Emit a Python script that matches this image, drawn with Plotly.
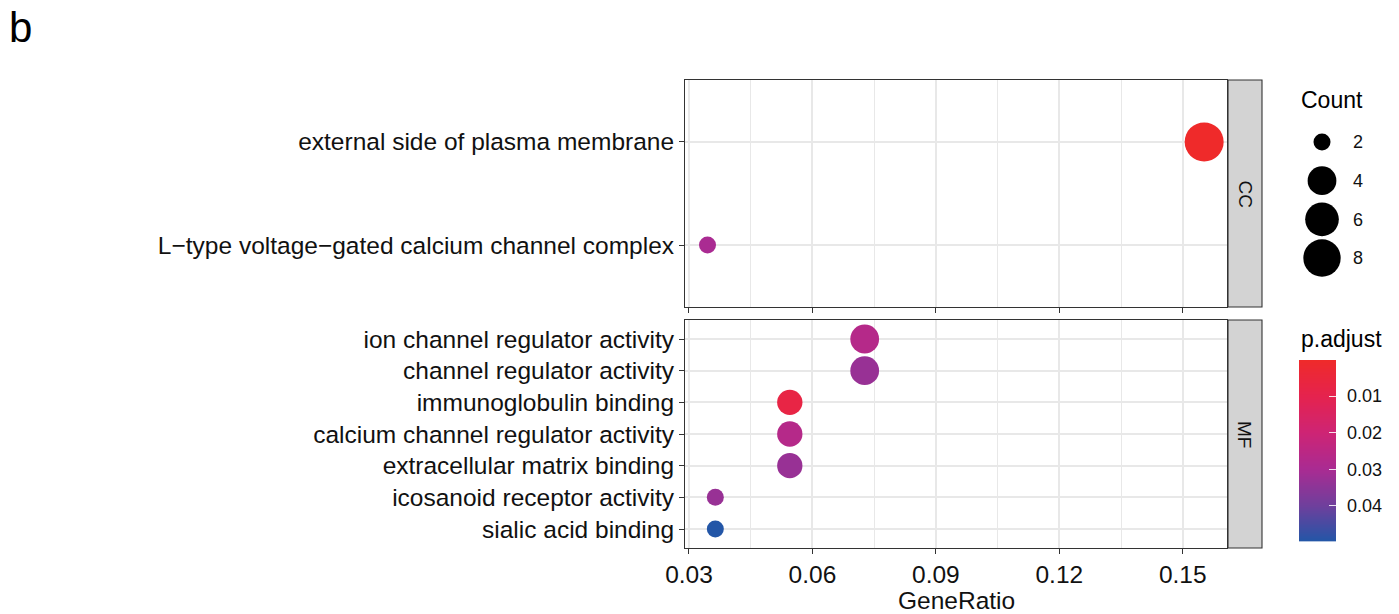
import numpy as np
import plotly.graph_objects as go

# ---------------- data ----------------
cc_terms = ["external side of plasma membrane",
            "L\u2212type voltage\u2212gated calcium channel complex"]
cc_ratio = [0.1552, 0.0345]
cc_count = [9, 2]
cc_padj = [0.0001, 0.030]

mf_terms = ["ion channel regulator activity",
            "channel regulator activity",
            "immunoglobulin binding",
            "calcium channel regulator activity",
            "extracellular matrix binding",
            "icosanoid receptor activity",
            "sialic acid binding"]
mf_ratio = [0.0727, 0.0727, 0.0545, 0.0545, 0.0545, 0.0364, 0.0364]
mf_count = [4, 4, 3, 3, 3, 2, 2]
mf_padj = [0.027, 0.033, 0.0075, 0.027, 0.033, 0.033, 0.0498]

x_ticks = [0.03, 0.06, 0.09, 0.12, 0.15]
x_ticklabels = ["0.03", "0.06", "0.09", "0.12", "0.15"]
size_legend_counts = [2, 4, 6, 8]
color_ticks = [0.01, 0.02, 0.03, 0.04]
color_ticklabels = ["0.01", "0.02", "0.03", "0.04"]

# ---------------- scales ----------------
W, H = 1399, 614
all_counts = cc_count + mf_count
cmin_count, cmax_count = min(all_counts), max(all_counts)
D_MIN, D_MAX = 17, 39


def size_scale(c):
    c = np.asarray(c, dtype=float)
    return D_MIN + (D_MAX - D_MIN) * np.sqrt((c - cmin_count) / (cmax_count - cmin_count))


all_p = cc_padj + mf_padj
pmin, pmax = min(all_p), max(all_p)
colorscale = [
    [0.0, "rgb(239,42,42)"],
    [0.2, "rgb(229,35,78)"],
    [0.4, "rgb(206,36,116)"],
    [0.6, "rgb(170,43,146)"],
    [0.8, "rgb(112,63,156)"],
    [1.0, "rgb(35,86,167)"],
]


def px_x(p):
    return p / W


def px_y(p):
    return 1 - p / H


FONT = "Liberation Sans, Arial, sans-serif"
GRID = "#E8E8E8"
DARK = "#333333"
TXT = "#111111"

X_RANGE = [0.02903, 0.16075]
PANEL_X = [px_x(685), px_x(1227)]

fig = go.Figure()

fig.add_trace(go.Scatter(
    x=cc_ratio, y=cc_terms, mode="markers", xaxis="x", yaxis="y",
    marker=dict(size=size_scale(cc_count), color=cc_padj, colorscale=colorscale,
                cmin=pmin, cmax=pmax, line=dict(width=0), opacity=1),
    showlegend=False, hoverinfo="x+y"))
fig.add_trace(go.Scatter(
    x=mf_ratio, y=mf_terms, mode="markers", xaxis="x2", yaxis="y2",
    marker=dict(size=size_scale(mf_count), color=mf_padj, colorscale=colorscale,
                cmin=pmin, cmax=pmax, line=dict(width=0), opacity=1),
    showlegend=False, hoverinfo="x+y"))

# size legend
fig.add_trace(go.Scatter(
    x=[0.5] * len(size_legend_counts), y=size_legend_counts, mode="markers",
    xaxis="x3", yaxis="y3", cliponaxis=False,
    marker=dict(size=size_scale(size_legend_counts), color="#000000",
                line=dict(width=0), opacity=1),
    showlegend=False, hoverinfo="skip"))

# colorbar as heatmap
grad = np.linspace(pmin, pmax, 300)
fig.add_trace(go.Heatmap(
    x=[0], y=grad, z=grad.reshape(-1, 1), colorscale=colorscale,
    zmin=pmin, zmax=pmax, showscale=False, xaxis="x4", yaxis="y4", hoverinfo="skip"))

axis_common = dict(showline=True, mirror=True, linecolor=DARK, linewidth=1.1,
                   zeroline=False, automargin=False)

xaxis_common = dict(
    range=X_RANGE, domain=PANEL_X, tickvals=x_ticks, ticktext=x_ticklabels,
    showgrid=True, gridcolor=GRID, gridwidth=2,
    minor=dict(dtick=0.015, tick0=0.015, showgrid=True, gridcolor=GRID, gridwidth=1,
               ticks=""),
    ticks="outside", ticklen=5, tickcolor=DARK, tickwidth=1,
    **axis_common)

fig.update_layout(
    template="none",
    width=W, height=H,
    margin=dict(l=0, r=0, t=0, b=0, pad=0),
    paper_bgcolor="white", plot_bgcolor="white",
    font=dict(family=FONT, color="black"),
    xaxis=dict(anchor="y", showticklabels=False, **xaxis_common),
    xaxis2=dict(anchor="y2", showticklabels=True,
                tickfont=dict(size=24.5, color=TXT),
                **xaxis_common),
    yaxis=dict(anchor="x", domain=[px_y(307), px_y(80)], type="category",
               categoryorder="array", categoryarray=cc_terms,
               range=[len(cc_terms) - 0.4, -0.6],
               showgrid=True, gridcolor=GRID, gridwidth=2,
               ticks="outside", ticklen=5, tickcolor=DARK, tickwidth=1,
               tickfont=dict(size=24.5, color=TXT), **axis_common),
    yaxis2=dict(anchor="x2", domain=[px_y(548), px_y(320)], type="category",
                categoryorder="array", categoryarray=mf_terms,
                range=[len(mf_terms) - 0.4, -0.6],
                showgrid=True, gridcolor=GRID, gridwidth=2,
                ticks="outside", ticklen=5, tickcolor=DARK, tickwidth=1,
                tickfont=dict(size=24.5, color=TXT), **axis_common),
    xaxis3=dict(anchor="y3", domain=[px_x(1298), px_x(1346)], range=[0, 1],
                visible=False, fixedrange=True, automargin=False),
    yaxis3=dict(anchor="x3", domain=[px_y(275), px_y(125)],
                range=[8.88, 1.12], side="right", showline=False, showgrid=False,
                zeroline=False, tickvals=size_legend_counts,
                ticktext=[str(c) for c in size_legend_counts], ticks="",
                ticklabelstandoff=6, automargin=False,
                tickfont=dict(size=18, color=TXT)),
    xaxis4=dict(anchor="y4", domain=[px_x(1299), px_x(1336)], range=[-0.5, 0.5],
                visible=False, fixedrange=True, automargin=False),
    yaxis4=dict(anchor="x4", domain=[px_y(541.5), px_y(360)],
                range=[pmax, pmin], side="right", showline=False, showgrid=False,
                zeroline=False, tickvals=color_ticks, ticktext=color_ticklabels,
                ticks="inside", ticklen=7, tickcolor="rgba(255,255,255,0.85)", tickwidth=1,
                ticklabelstandoff=10, automargin=False,
                tickfont=dict(size=18, color=TXT)),
    yaxis5=dict(anchor="x4", overlaying="y4", domain=[px_y(541.5), px_y(360)],
                range=[pmax, pmin], side="left", showline=False, showgrid=False,
                zeroline=False, tickvals=color_ticks, showticklabels=False,
                automargin=False,
                ticks="inside", ticklen=7, tickcolor="rgba(255,255,255,0.85)", tickwidth=1),
)

# facet strips
shapes = []
annotations = []
for (y0, y1, lab) in [(80, 307, "CC"), (320, 548, "MF")]:
    shapes.append(dict(type="rect", xref="paper", yref="paper",
                       x0=px_x(1228), x1=px_x(1262), y0=px_y(y1), y1=px_y(y0),
                       fillcolor="#D3D3D3", line=dict(color=DARK, width=1.1), layer="above"))
    annotations.append(dict(text=lab, xref="paper", yref="paper",
                            x=px_x(1245), y=px_y((y0 + y1) / 2), showarrow=False,
                            textangle=90, font=dict(size=19, color=TXT),
                            xanchor="center", yanchor="middle"))

annotations.append(dict(text="GeneRatio", xref="paper", yref="paper",
                        x=(PANEL_X[0] + PANEL_X[1]) / 2, y=px_y(600), showarrow=False,
                        xanchor="center", yanchor="middle",
                        font=dict(size=24.5, color=TXT)))
annotations.append(dict(text="Count", xref="paper", yref="paper", x=px_x(1299), y=px_y(100),
                        showarrow=False, xanchor="left", yanchor="middle",
                        font=dict(size=23, color="black")))
annotations.append(dict(text="p.adjust", xref="paper", yref="paper", x=px_x(1299), y=px_y(339),
                        showarrow=False, xanchor="left", yanchor="middle",
                        font=dict(size=23, color="black")))
annotations.append(dict(text="b", xref="paper", yref="paper", x=px_x(7), y=px_y(27),
                        showarrow=False, xanchor="left", yanchor="middle",
                        font=dict(size=42, color="black")))

fig.update_layout(shapes=shapes, annotations=annotations)

fig.write_html("out.html", config={"displayModeBar": False},
               post_script="document.body.style.margin='0px';")
